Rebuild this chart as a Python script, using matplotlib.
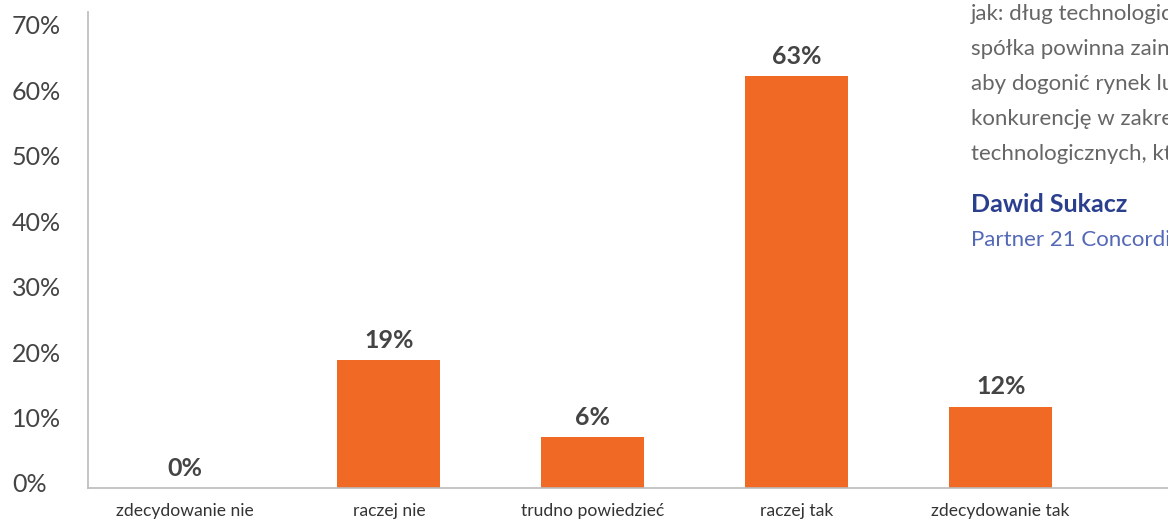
import matplotlib
matplotlib.use("Agg")
import matplotlib.pyplot as plt
import matplotlib.transforms as mtransforms

plt.rcParams['font.family'] = ['Lato', 'DejaVu Sans']

categories = ["zdecydowanie nie", "raczej nie", "trudno powiedzieć", "raczej tak", "zdecydowanie tak"]
# bar heights as drawn in the picture, labels as printed
heights = [0, 19.5, 7.8, 62.9, 12.4]
labels = ["0%", "19%", "6%", "63%", "12%"]
yticks = [0, 10, 20, 30, 40, 50, 60, 70]

# quote is cut by the right edge in the source image
quote_lines = [
    "jak: dług technologic",
    "spółka powinna zain",
    "aby dogonić rynek lu",
    "konkurencję w zakre",
    "technologicznych, kt",
]
author = "Dawid Sukacz"
role = "Partner 21 Concordi"

ORANGE = "#F06A26"
AXIS = "#BBBBBB"
TEXT = "#444444"

fig = plt.figure(figsize=(11.68, 5.21), dpi=100)
ax = fig.add_axes([88 / 1168, 33 / 521, 1 - 88 / 1168, 476 / 521])

xs = list(range(len(categories)))
ax.bar(xs, heights, width=0.505, color=ORANGE)

for x, h, lab in zip(xs, heights, labels):
    ax.annotate(lab, (x, h), xytext=(0, 6), textcoords="offset points",
                ha="center", va="bottom", fontsize=18, fontweight="bold", color=TEXT)

ax.set_xlim(-0.475, 4.82)
ax.set_ylim(0, 72.7)
ax.set_xticks(xs)
ax.set_xticklabels(categories, fontsize=12.6, color="#333333")
ax.set_yticks(yticks)
ax.set_yticklabels([f"{t}%" for t in yticks], fontsize=18, color=TEXT, ha="left")
ax.tick_params(axis="y", length=0, pad=54.7)
ax.tick_params(axis="x", length=0, pad=11)
off = mtransforms.ScaledTranslation(0, 5 / 100, fig.dpi_scale_trans)
for t in ax.get_yticklabels():
    t.set_transform(t.get_transform() + off)

for side in ["top", "right"]:
    ax.spines[side].set_visible(False)
ax.spines["left"].set_color(AXIS)
ax.spines["bottom"].set_color(AXIS)
ax.spines["left"].set_linewidth(1.2)
ax.spines["bottom"].set_linewidth(1.2)

# quote on the right
for i, line in enumerate(quote_lines):
    fig.text(971 / 1168, 1 - (14 + 35 * i) / 521, line, fontsize=16,
             color="#666666", va="center", ha="left")
fig.text(971 / 1168, 1 - 205 / 521, author, fontsize=18, fontweight="bold",
         color="#2B3F8F", va="center", ha="left")
fig.text(971 / 1168, 1 - 240 / 521, role, fontsize=16,
         color="#5468B8", va="center", ha="left")

fig.savefig("out.png", dpi=100)
